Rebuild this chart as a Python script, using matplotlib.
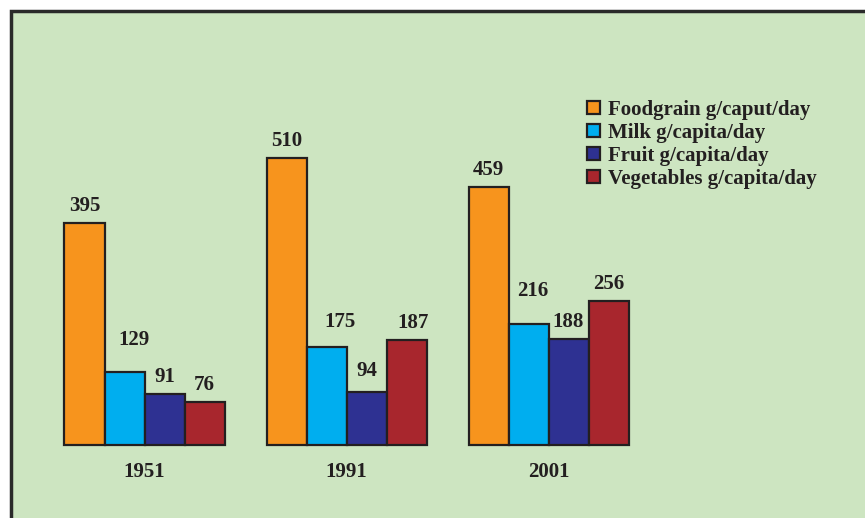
import matplotlib.pyplot as plt
import matplotlib.patches as mpatches
import numpy as np

years = ["1951", "1991", "2001"]
series = ["Foodgrain g/caput/day", "Milk g/capita/day",
          "Fruit g/capita/day", "Vegetables g/capita/day"]
foodgrain = [395, 510, 459]
milk = [129, 175, 216]
fruit = [91, 94, 188]
vegetables = [76, 187, 256]
values = [foodgrain, milk, fruit, vegetables]
colors = ["#f7941d", "#00aeef", "#2e3192", "#a8262d"]

# hand-placed label nudges in pixels (dx, extra dy), per series then per year
nudges = [
    [(0, 0), (0, 0), (0, 0)],
    [(9, 15), (14, 8), (4, 15)],
    [(0, 0), (0, 4), (0, 0)],
    [(0, 0), (7, 0), (0, 0)],
]

plt.rcParams['font.family'] = ['Liberation Serif', 'DejaVu Serif']
plt.rcParams['font.weight'] = 'bold'

W, H = 865, 518
fig = plt.figure(figsize=(W / 100, H / 100), dpi=100)
fig.patch.set_facecolor("white")

# green panel with dark frame on top/left
panel = mpatches.Rectangle((11 / W, -0.1), 1.2, (H - 11) / H + 0.1,
                           transform=fig.transFigure, facecolor="#cde5c1",
                           edgecolor="#2a2a2a", linewidth=2.5, zorder=-5)
fig.patches.append(panel)

ax = fig.add_axes([0, 0, 1, 1])
ax.set_zorder(2)
ax.set_facecolor("none")
ax.axis("off")

x = np.arange(len(years))
bw = 40 / 202
for i, (vals, c) in enumerate(zip(values, colors)):
    pos = x + (i - 1.5) * bw
    ax.bar(pos, vals, width=bw, color=c, edgecolor="#231f20", linewidth=1.6,
           label=series[i], zorder=2)
    for j, (p, v) in enumerate(zip(pos, vals)):
        dx, dy = nudges[i][j]
        ax.annotate(str(v), (p, v), xytext=(dx, 17 + dy),
                    textcoords="offset pixels", ha="center", va="center",
                    fontsize=15, fontweight="bold", color="#231f20")

for xi, y in zip(x, years):
    ax.annotate(y, (xi, 0), xytext=(0, -27), textcoords="offset pixels",
                ha="center", va="center", fontsize=15,
                fontweight="bold", color="#231f20")

ax.set_xlim(-144.5 / 202, (W - 144.5) / 202)
ax.set_ylim(-73 / 0.5625, (H - 73) / 0.5625)

leg = ax.legend(loc="upper left", bbox_to_anchor=(579 / W, 1 - 91.5 / H),
                frameon=False, fontsize=15, handlelength=0.6, handleheight=0.6,
                handletextpad=0.4, labelspacing=0.15, borderaxespad=0)
for t in leg.get_texts():
    t.set_color("#231f20")

plt.savefig("out.png", dpi=100)
